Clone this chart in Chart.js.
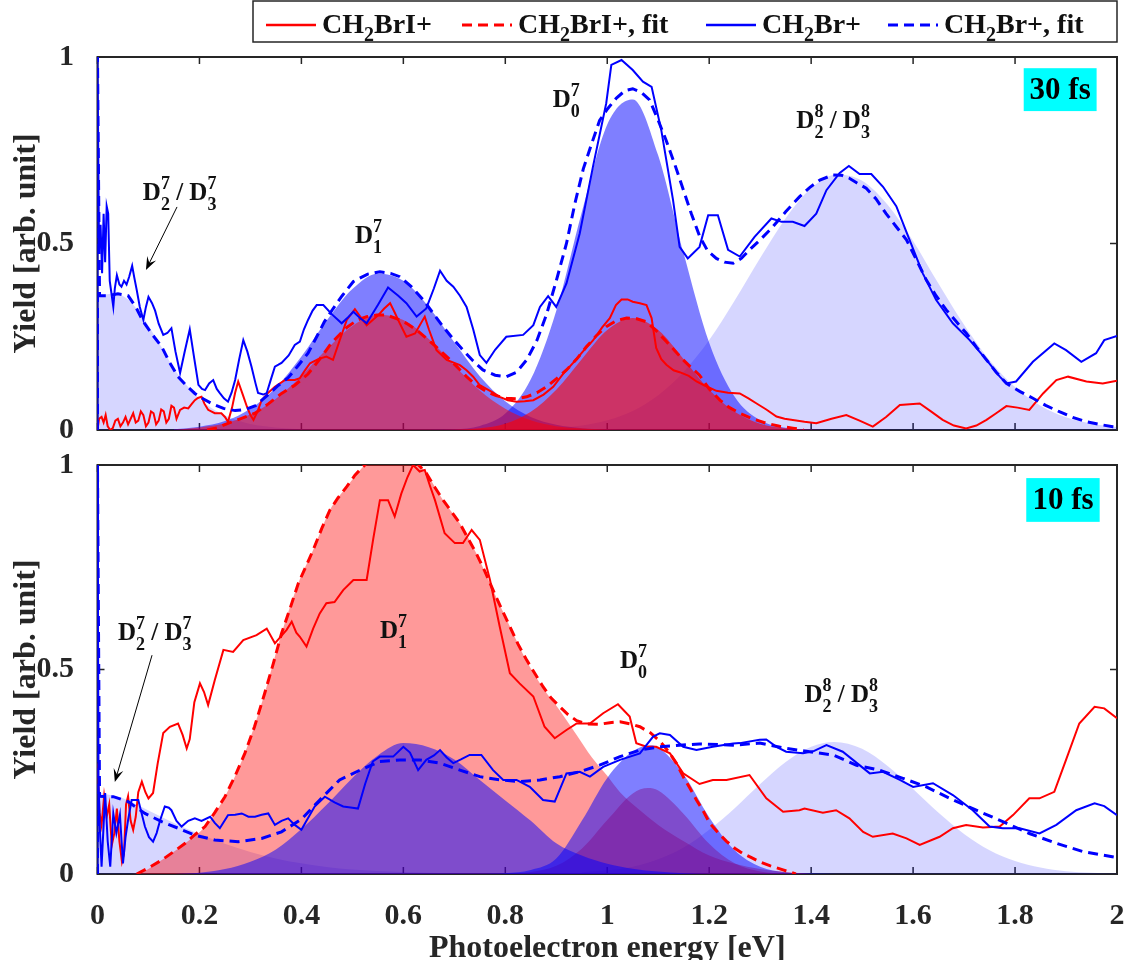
<!DOCTYPE html>
<html>
<head>
<meta charset="utf-8">
<script src="https://cdn.jsdelivr.net/npm/chart.js@4.4.1/dist/chart.umd.min.js"></script>
<style>
  html, body { margin: 0; padding: 0; background: #fff; }
  #wrap { position: relative; width: 1127px; height: 960px; }
  #c1 { position: absolute; left: 0; top: 0; }
  #c2 { position: absolute; left: 0; top: 445px; }
</style>
</head>
<body>
<div id="wrap">
  <canvas id="c1" width="1127" height="445"></canvas>
  <canvas id="c2" width="1127" height="515"></canvas>
</div>
<script>
const SERIF = "'Liberation Serif', 'Times New Roman', serif";

const xTicks = [0, 0.2, 0.4, 0.6, 0.8, 1, 1.2, 1.4, 1.6, 1.8, 2];
const yTicks = [0, 0.5, 1];

/* ---------- 30 fs panel: measured spectra [energy, yield] ---------- */
const e30_CH2BrI = [[0,0],[0.003,0.03],[0.008,0.035],[0.012,0.02],[0.016,0.04],[0.02,0.01],[0.025,0],[0.03,0.005],[0.035,0.025],[0.04,0.03],[0.045,0.01],[0.05,0.02],[0.055,0.035],[0.06,0.015],[0.065,0.03],[0.07,0.045],[0.075,0.02],[0.08,0.025],[0.085,0.05],[0.09,0.04],[0.095,0.01],[0.1,0.02],[0.105,0.05],[0.11,0.045],[0.115,0.015],[0.12,0.025],[0.125,0.055],[0.13,0.05],[0.135,0.02],[0.14,0.03],[0.145,0.065],[0.15,0.06],[0.155,0.03],[0.162,0.054],[0.17,0.06],[0.178,0.058],[0.185,0.07],[0.191,0.08],[0.197,0.086],[0.204,0.089],[0.21,0.07],[0.217,0.054],[0.23,0.045],[0.243,0.045],[0.25,0.035],[0.256,0.022],[0.264,0.06],[0.27,0.1],[0.276,0.13],[0.285,0.095],[0.293,0.063],[0.3,0.04],[0.306,0.027],[0.314,0.05],[0.322,0.08],[0.335,0.1],[0.348,0.116],[0.368,0.134],[0.387,0.134],[0.397,0.139],[0.407,0.16],[0.417,0.179],[0.433,0.19],[0.449,0.197],[0.462,0.188],[0.475,0.24],[0.489,0.295],[0.505,0.324],[0.515,0.305],[0.528,0.281],[0.54,0.295],[0.551,0.308],[0.562,0.325],[0.574,0.34],[0.583,0.315],[0.593,0.286],[0.606,0.25],[0.623,0.259],[0.642,0.304],[0.65,0.27],[0.665,0.214],[0.685,0.188],[0.711,0.174],[0.724,0.16],[0.737,0.143],[0.75,0.12],[0.763,0.11],[0.776,0.1],[0.789,0.089],[0.805,0.08],[0.822,0.076],[0.838,0.077],[0.855,0.08],[0.875,0.095],[0.894,0.116],[0.913,0.15],[0.933,0.18],[0.952,0.21],[0.972,0.24],[0.99,0.275],[1.005,0.3],[1.017,0.335],[1.028,0.35],[1.04,0.35],[1.05,0.344],[1.064,0.34],[1.077,0.335],[1.087,0.3],[1.096,0.22],[1.106,0.19],[1.116,0.175],[1.13,0.16],[1.142,0.155],[1.16,0.145],[1.175,0.13],[1.19,0.12],[1.214,0.105],[1.237,0.1],[1.26,0.098],[1.277,0.085],[1.293,0.071],[1.312,0.055],[1.332,0.036],[1.348,0.03],[1.364,0.027],[1.387,0.022],[1.41,0.018],[1.44,0.03],[1.469,0.04],[1.495,0.025],[1.521,0.009],[1.547,0.035],[1.574,0.067],[1.613,0.071],[1.635,0.05],[1.658,0.027],[1.68,0.012],[1.704,0.004],[1.724,0.012],[1.744,0.027],[1.763,0.045],[1.783,0.064],[1.805,0.06],[1.828,0.054],[1.855,0.098],[1.881,0.134],[1.904,0.143],[1.94,0.13],[1.972,0.125],[2,0.132]];

const e30_CH2BrI_fit = [[0.215,0],[0.235,0.006],[0.256,0.018],[0.28,0.03],[0.309,0.045],[0.335,0.07],[0.361,0.098],[0.387,0.12],[0.413,0.15],[0.436,0.19],[0.46,0.235],[0.489,0.275],[0.51,0.295],[0.528,0.304],[0.548,0.308],[0.567,0.308],[0.588,0.298],[0.606,0.286],[0.626,0.268],[0.645,0.246],[0.665,0.222],[0.685,0.197],[0.705,0.17],[0.724,0.143],[0.743,0.12],[0.763,0.103],[0.782,0.092],[0.802,0.085],[0.822,0.084],[0.842,0.089],[0.862,0.1],[0.881,0.116],[0.9,0.137],[0.92,0.161],[0.94,0.19],[0.959,0.223],[0.978,0.252],[0.998,0.277],[1.018,0.293],[1.038,0.3],[1.058,0.298],[1.077,0.29],[1.097,0.265],[1.116,0.237],[1.133,0.212],[1.149,0.188],[1.165,0.167],[1.181,0.147],[1.2,0.11],[1.221,0.08],[1.24,0.06],[1.26,0.045],[1.285,0.03],[1.312,0.018],[1.338,0.01],[1.364,0.005],[1.385,0]];

const e30_CH2Br = [[0,0],[0,1],[0.003,0.48],[0.006,0.55],[0.009,0.42],[0.012,0.58],[0.015,0.45],[0.018,0.6],[0.021,0.58],[0.024,0.4],[0.027,0.37],[0.031,0.33],[0.034,0.38],[0.038,0.415],[0.043,0.39],[0.047,0.384],[0.052,0.4],[0.057,0.39],[0.062,0.41],[0.068,0.44],[0.072,0.41],[0.077,0.375],[0.083,0.33],[0.09,0.295],[0.095,0.33],[0.1,0.357],[0.107,0.34],[0.113,0.32],[0.12,0.285],[0.129,0.255],[0.137,0.26],[0.145,0.273],[0.153,0.21],[0.162,0.153],[0.171,0.21],[0.181,0.27],[0.19,0.19],[0.198,0.121],[0.205,0.11],[0.211,0.107],[0.219,0.125],[0.227,0.134],[0.234,0.11],[0.24,0.099],[0.248,0.085],[0.256,0.076],[0.263,0.1],[0.27,0.134],[0.278,0.19],[0.286,0.241],[0.294,0.21],[0.302,0.17],[0.31,0.125],[0.315,0.099],[0.325,0.095],[0.332,0.099],[0.34,0.135],[0.348,0.17],[0.355,0.175],[0.361,0.18],[0.375,0.2],[0.387,0.228],[0.397,0.237],[0.405,0.27],[0.413,0.295],[0.422,0.32],[0.43,0.335],[0.443,0.335],[0.46,0.31],[0.479,0.286],[0.49,0.3],[0.502,0.317],[0.515,0.3],[0.528,0.286],[0.55,0.335],[0.57,0.382],[0.59,0.36],[0.606,0.34],[0.626,0.304],[0.645,0.326],[0.66,0.38],[0.672,0.427],[0.685,0.4],[0.698,0.384],[0.711,0.36],[0.724,0.33],[0.737,0.27],[0.75,0.201],[0.763,0.18],[0.78,0.215],[0.802,0.25],[0.835,0.255],[0.855,0.281],[0.868,0.33],[0.884,0.359],[0.9,0.33],[0.92,0.393],[0.946,0.527],[0.972,0.706],[0.998,0.876],[1.008,0.979],[1.028,0.992],[1.05,0.965],[1.07,0.934],[1.087,0.92],[1.106,0.804],[1.129,0.617],[1.142,0.491],[1.158,0.46],[1.181,0.491],[1.198,0.576],[1.217,0.576],[1.237,0.483],[1.26,0.465],[1.289,0.518],[1.322,0.567],[1.342,0.558],[1.364,0.558],[1.387,0.547],[1.41,0.58],[1.43,0.643],[1.456,0.689],[1.474,0.708],[1.495,0.686],[1.518,0.686],[1.541,0.652],[1.567,0.6],[1.593,0.51],[1.619,0.42],[1.645,0.349],[1.678,0.286],[1.711,0.241],[1.744,0.188],[1.77,0.143],[1.783,0.125],[1.802,0.13],[1.835,0.183],[1.877,0.232],[1.9,0.214],[1.93,0.183],[1.959,0.206],[1.975,0.241],[2,0.252]];

const e30_CH2Br_fit = [[0,0],[0,1],[0.004,0.36],[0.02,0.36],[0.04,0.365],[0.06,0.36],[0.075,0.33],[0.09,0.29],[0.108,0.255],[0.126,0.223],[0.142,0.18],[0.158,0.143],[0.175,0.118],[0.191,0.098],[0.208,0.083],[0.224,0.071],[0.247,0.058],[0.27,0.052],[0.29,0.055],[0.31,0.065],[0.335,0.095],[0.355,0.12],[0.374,0.14],[0.395,0.175],[0.413,0.206],[0.43,0.25],[0.445,0.29],[0.462,0.325],[0.48,0.36],[0.502,0.398],[0.53,0.418],[0.554,0.424],[0.575,0.42],[0.593,0.411],[0.615,0.385],[0.639,0.349],[0.66,0.31],[0.678,0.277],[0.697,0.245],[0.717,0.214],[0.737,0.185],[0.756,0.161],[0.78,0.147],[0.802,0.143],[0.822,0.155],[0.842,0.188],[0.862,0.24],[0.881,0.31],[0.9,0.4],[0.92,0.5],[0.937,0.61],[0.953,0.7],[0.97,0.77],[0.985,0.83],[1,0.86],[1.018,0.89],[1.035,0.91],[1.05,0.915],[1.067,0.905],[1.083,0.885],[1.1,0.83],[1.116,0.775],[1.133,0.71],[1.149,0.645],[1.165,0.58],[1.181,0.52],[1.197,0.48],[1.214,0.46],[1.23,0.45],[1.247,0.447],[1.263,0.46],[1.279,0.483],[1.3,0.51],[1.325,0.545],[1.35,0.585],[1.377,0.625],[1.397,0.65],[1.417,0.67],[1.443,0.684],[1.46,0.683],[1.475,0.675],[1.49,0.662],[1.508,0.648],[1.527,0.62],[1.547,0.58],[1.567,0.545],[1.587,0.51],[1.607,0.455],[1.626,0.402],[1.645,0.36],[1.665,0.322],[1.685,0.29],[1.704,0.26],[1.724,0.223],[1.744,0.188],[1.763,0.155],[1.783,0.125],[1.81,0.103],[1.835,0.085],[1.86,0.066],[1.887,0.049],[1.913,0.034],[1.94,0.022],[1.965,0.015],[1.992,0.009],[2,0.008]];

/* 30 fs fitted components */
const g30_D23_7 = [[0,0.36],[0.03,0.365],[0.06,0.35],[0.09,0.3],[0.12,0.235],[0.15,0.165],[0.18,0.112],[0.21,0.072],[0.24,0.046],[0.27,0.028],[0.3,0.016],[0.35,0.007],[0.4,0.002],[0.45,0]];
const g30_D1_Br = [[0.15,0.002],[0.2,0.009],[0.25,0.024],[0.3,0.057],[0.35,0.114],[0.4,0.197],[0.45,0.294],[0.5,0.378],[0.55,0.419],[0.6,0.4],[0.65,0.33],[0.7,0.235],[0.75,0.144],[0.8,0.077],[0.85,0.035],[0.9,0.014],[0.95,0.005],[1,0.002],[1.05,0]];
const g30_D1_BrI = [[0.15,0.001],[0.2,0.007],[0.25,0.018],[0.3,0.042],[0.35,0.084],[0.4,0.145],[0.45,0.217],[0.5,0.279],[0.55,0.309],[0.6,0.295],[0.65,0.244],[0.7,0.173],[0.75,0.106],[0.8,0.057],[0.85,0.026],[0.9,0.01],[0.95,0.004],[1,0.001],[1.05,0]];
const g30_D0_Br = [[0.65,0],[0.7,0.002],[0.75,0.011],[0.8,0.044],[0.85,0.136],[0.9,0.32],[0.95,0.584],[1,0.819],[1.05,0.886],[1.1,0.736],[1.15,0.473],[1.2,0.234],[1.25,0.089],[1.3,0.026],[1.35,0.006],[1.4,0.001],[1.45,0]];
const g30_D0_BrI = [[0.65,0],[0.7,0.001],[0.75,0.005],[0.8,0.017],[0.85,0.049],[0.9,0.108],[0.95,0.19],[1,0.268],[1.05,0.3],[1.1,0.268],[1.15,0.19],[1.2,0.108],[1.25,0.049],[1.3,0.017],[1.35,0.005],[1.4,0.001],[1.45,0]];
const g30_D23_8 = [[0.85,0.002],[0.9,0.005],[0.95,0.012],[1,0.026],[1.05,0.051],[1.1,0.093],[1.15,0.156],[1.2,0.241],[1.25,0.347],[1.3,0.461],[1.35,0.568],[1.4,0.648],[1.45,0.685],[1.5,0.668],[1.55,0.604],[1.6,0.507],[1.65,0.392],[1.7,0.282],[1.75,0.187],[1.8,0.115],[1.85,0.065],[1.9,0.034],[1.95,0.017],[2,0.008]];

/* ---------- 10 fs panel ---------- */
const e10_CH2BrI = [[0,0.27],[0.004,0.15],[0.008,0.12],[0.013,0.19],[0.018,0.14],[0.023,0.17],[0.028,0.07],[0.033,0.1],[0.038,0.16],[0.043,0.08],[0.048,0.03],[0.052,0.05],[0.056,0.17],[0.06,0.19],[0.065,0.13],[0.07,0.108],[0.075,0.14],[0.08,0.2],[0.087,0.226],[0.094,0.2],[0.1,0.185],[0.109,0.198],[0.118,0.27],[0.129,0.345],[0.142,0.36],[0.158,0.368],[0.167,0.34],[0.175,0.307],[0.181,0.33],[0.19,0.42],[0.201,0.466],[0.209,0.445],[0.217,0.413],[0.23,0.474],[0.247,0.548],[0.266,0.543],[0.286,0.572],[0.312,0.584],[0.332,0.6],[0.348,0.564],[0.371,0.597],[0.381,0.617],[0.39,0.59],[0.397,0.58],[0.41,0.556],[0.423,0.6],[0.436,0.637],[0.449,0.662],[0.465,0.665],[0.482,0.694],[0.502,0.719],[0.528,0.719],[0.541,0.82],[0.554,0.914],[0.57,0.914],[0.583,0.874],[0.596,0.93],[0.608,0.97],[0.619,1],[0.632,0.984],[0.642,0.988],[0.652,0.95],[0.662,0.914],[0.681,0.833],[0.701,0.809],[0.717,0.809],[0.734,0.841],[0.75,0.817],[0.77,0.719],[0.789,0.605],[0.809,0.491],[0.828,0.466],[0.855,0.434],[0.877,0.36],[0.897,0.332],[0.92,0.352],[0.94,0.368],[0.966,0.368],[0.992,0.393],[1.021,0.415],[1.044,0.385],[1.057,0.32],[1.077,0.311],[1.096,0.311],[1.123,0.295],[1.149,0.246],[1.181,0.22],[1.207,0.23],[1.234,0.23],[1.279,0.242],[1.312,0.185],[1.345,0.152],[1.377,0.156],[1.387,0.16],[1.423,0.15],[1.449,0.156],[1.475,0.136],[1.502,0.103],[1.521,0.091],[1.56,0.099],[1.587,0.087],[1.613,0.071],[1.652,0.091],[1.678,0.112],[1.704,0.12],[1.737,0.114],[1.77,0.116],[1.796,0.144],[1.828,0.185],[1.848,0.185],[1.877,0.201],[1.9,0.279],[1.926,0.368],[1.956,0.409],[1.975,0.405],[2,0.381]];

const e10_CH2BrI_fit = [[0.077,0],[0.1,0.015],[0.126,0.034],[0.15,0.055],[0.172,0.075],[0.19,0.095],[0.211,0.116],[0.23,0.15],[0.25,0.189],[0.27,0.24],[0.289,0.295],[0.308,0.36],[0.328,0.442],[0.345,0.515],[0.361,0.588],[0.378,0.65],[0.394,0.711],[0.41,0.755],[0.423,0.792],[0.44,0.845],[0.456,0.89],[0.472,0.92],[0.489,0.947],[0.505,0.975],[0.521,0.996],[0.55,1.03],[0.58,1.045],[0.61,1.03],[0.63,1],[0.645,0.98],[0.662,0.945],[0.678,0.914],[0.695,0.885],[0.711,0.857],[0.727,0.82],[0.743,0.784],[0.76,0.74],[0.776,0.694],[0.792,0.65],[0.809,0.605],[0.825,0.562],[0.842,0.523],[0.858,0.49],[0.874,0.458],[0.89,0.43],[0.907,0.409],[0.923,0.39],[0.94,0.375],[0.96,0.367],[0.985,0.366],[1.005,0.37],[1.025,0.372],[1.045,0.367],[1.064,0.36],[1.085,0.345],[1.103,0.325],[1.12,0.3],[1.136,0.27],[1.149,0.238],[1.162,0.21],[1.175,0.181],[1.188,0.155],[1.201,0.124],[1.218,0.1],[1.234,0.08],[1.25,0.063],[1.266,0.05],[1.283,0.04],[1.299,0.03],[1.32,0.02],[1.345,0.01],[1.37,0]];

const e10_CH2Br = [[0,0],[0,1],[0.002,0.23],[0.005,0.1],[0.008,0.018],[0.012,0.12],[0.015,0.198],[0.02,0.08],[0.025,0.018],[0.031,0.148],[0.037,0.1],[0.044,0.145],[0.05,0.026],[0.055,0.09],[0.06,0.132],[0.067,0.181],[0.08,0.181],[0.093,0.116],[0.101,0.09],[0.109,0.079],[0.116,0.1],[0.123,0.132],[0.132,0.165],[0.14,0.162],[0.145,0.156],[0.155,0.13],[0.165,0.116],[0.178,0.13],[0.191,0.136],[0.204,0.13],[0.221,0.14],[0.23,0.125],[0.24,0.112],[0.256,0.144],[0.27,0.145],[0.283,0.148],[0.296,0.14],[0.309,0.14],[0.322,0.145],[0.335,0.148],[0.348,0.12],[0.361,0.13],[0.374,0.136],[0.387,0.12],[0.4,0.108],[0.41,0.13],[0.426,0.165],[0.446,0.189],[0.465,0.175],[0.482,0.165],[0.5,0.162],[0.511,0.16],[0.525,0.22],[0.54,0.275],[0.554,0.287],[0.58,0.287],[0.6,0.311],[0.613,0.297],[0.629,0.254],[0.645,0.279],[0.66,0.29],[0.672,0.303],[0.685,0.285],[0.698,0.271],[0.713,0.28],[0.73,0.291],[0.753,0.291],[0.776,0.254],[0.796,0.23],[0.822,0.23],[0.848,0.213],[0.874,0.181],[0.897,0.177],[0.92,0.246],[0.946,0.25],[0.966,0.238],[0.992,0.262],[1.025,0.279],[1.064,0.295],[1.09,0.336],[1.103,0.344],[1.123,0.34],[1.149,0.311],[1.175,0.303],[1.207,0.311],[1.247,0.319],[1.26,0.32],[1.299,0.328],[1.312,0.329],[1.332,0.311],[1.351,0.299],[1.384,0.295],[1.404,0.3],[1.43,0.315],[1.462,0.299],[1.482,0.279],[1.515,0.246],[1.541,0.25],[1.574,0.23],[1.6,0.213],[1.639,0.222],[1.678,0.193],[1.717,0.156],[1.75,0.116],[1.776,0.112],[1.809,0.112],[1.848,0.099],[1.881,0.12],[1.92,0.156],[1.956,0.173],[1.975,0.166],[2,0.144]];

const e10_CH2Br_fit = [[0,0],[0,1],[0.004,0.19],[0.031,0.189],[0.06,0.177],[0.093,0.148],[0.126,0.128],[0.158,0.112],[0.191,0.095],[0.23,0.083],[0.276,0.079],[0.322,0.087],[0.361,0.103],[0.4,0.134],[0.436,0.181],[0.475,0.23],[0.515,0.254],[0.554,0.275],[0.593,0.279],[0.632,0.279],[0.672,0.271],[0.711,0.254],[0.75,0.238],[0.789,0.23],[0.828,0.226],[0.868,0.23],[0.907,0.238],[0.946,0.25],[0.985,0.266],[1.025,0.287],[1.064,0.303],[1.103,0.311],[1.142,0.315],[1.181,0.318],[1.247,0.315],[1.299,0.32],[1.351,0.307],[1.397,0.299],[1.443,0.291],[1.489,0.266],[1.534,0.254],[1.58,0.234],[1.626,0.213],[1.672,0.185],[1.724,0.156],[1.776,0.128],[1.828,0.099],[1.881,0.075],[1.933,0.055],[2,0.04]];

/* 10 fs fitted components */
const g10_D23_7 = [[0,0.2],[0.05,0.185],[0.1,0.155],[0.15,0.125],[0.2,0.098],[0.25,0.074],[0.3,0.054],[0.35,0.038],[0.4,0.026],[0.45,0.017],[0.5,0.011],[0.6,0.005],[0.7,0.002],[0.8,0]];
const g10_D1_BrI = [[0.05,0],[0.08,0.002],[0.126,0.034],[0.172,0.075],[0.211,0.116],[0.25,0.189],[0.289,0.295],[0.328,0.442],[0.361,0.588],[0.394,0.711],[0.423,0.792],[0.456,0.89],[0.489,0.947],[0.521,0.996],[0.55,1.03],[0.58,1.045],[0.61,1.03],[0.645,0.98],[0.678,0.914],[0.711,0.857],[0.743,0.784],[0.776,0.694],[0.809,0.605],[0.842,0.52],[0.874,0.455],[0.907,0.4],[0.94,0.34],[0.97,0.285],[1,0.24],[1.025,0.2],[1.06,0.16],[1.1,0.12],[1.15,0.08],[1.2,0.045],[1.25,0.025],[1.3,0.012],[1.35,0.005],[1.4,0]];
const g10_D0_BrI = [[0.8,0],[0.85,0.005],[0.9,0.02],[0.95,0.062],[1,0.132],[1.05,0.197],[1.08,0.21],[1.1,0.204],[1.15,0.147],[1.2,0.074],[1.25,0.026],[1.3,0.006],[1.35,0.001],[1.4,0]];
const g10_D1_Br = [[0.15,0],[0.2,0.003],[0.25,0.012],[0.3,0.03],[0.35,0.06],[0.4,0.11],[0.45,0.17],[0.5,0.235],[0.55,0.29],[0.6,0.32],[0.65,0.31],[0.7,0.28],[0.75,0.23],[0.8,0.18],[0.85,0.13],[0.9,0.075],[0.95,0.045],[1,0.025],[1.05,0.013],[1.1,0.006],[1.15,0.002],[1.2,0]];
const g10_D0_Br = [[0.75,0],[0.8,0.002],[0.85,0.01],[0.9,0.038],[0.95,0.13],[1,0.235],[1.05,0.3],[1.085,0.315],[1.1,0.31],[1.15,0.243],[1.2,0.139],[1.25,0.058],[1.3,0.018],[1.35,0.004],[1.4,0.001],[1.45,0]];
const g10_D23_8 = [[0.95,0.004],[1,0.009],[1.05,0.018],[1.1,0.036],[1.15,0.065],[1.2,0.108],[1.25,0.161],[1.3,0.22],[1.35,0.274],[1.4,0.311],[1.445,0.323],[1.5,0.306],[1.55,0.264],[1.6,0.208],[1.65,0.15],[1.7,0.098],[1.75,0.058],[1.8,0.032],[1.85,0.016],[1.9,0.007],[1.95,0.003],[2,0.001]];

const RED = '#ff0000', BLUE = '#0000ff';
const LAV = 'rgba(0,0,255,0.16)', MIDBLUE = 'rgba(0,0,255,0.5)';

function pts(a) { return a.map(p => ({ x: p[0], y: p[1] })); }

function line(data, color, dashed, order) {
  return {
    data: pts(data), borderColor: color, borderWidth: dashed ? 3 : 2,
    borderDash: dashed ? [10, 6] : [], pointRadius: 0, fill: false, tension: 0, order
  };
}

function area(data, color, order) {
  return {
    data: pts(data), borderWidth: 0, borderColor: 'rgba(0,0,0,0)', backgroundColor: color,
    fill: 'origin', pointRadius: 0, cubicInterpolationMode: 'monotone', order
  };
}

// rich text: plain strings, or {sup, sub} stacked scripts
function rich(ctx, x, y, parts, size, subOff) {
  const small = Math.round(size * 0.72);
  ctx.textAlign = 'left';
  ctx.textBaseline = 'alphabetic';
  for (const p of parts) {
    if (typeof p === 'string') {
      ctx.font = `bold ${size}px ${SERIF}`;
      ctx.fillText(p, x, y);
      x += ctx.measureText(p).width;
    } else {
      ctx.font = `bold ${small}px ${SERIF}`;
      let w = 0;
      if (p.sup) { ctx.fillText(p.sup, x, y - size * 0.45); w = Math.max(w, ctx.measureText(p.sup).width); }
      if (p.sub) { ctx.fillText(p.sub, x, y + size * (subOff || 0.4)); w = Math.max(w, ctx.measureText(p.sub).width); }
      x += w;
    }
  }
  return x;
}

function arrow(ctx, x1, y1, x2, y2) {
  const ang = Math.atan2(y2 - y1, x2 - x1);
  const hl = 13, hw = 5;
  ctx.strokeStyle = '#000';
  ctx.lineWidth = 1;
  ctx.beginPath();
  ctx.moveTo(x1, y1);
  ctx.lineTo(x2 - hl * 0.6 * Math.cos(ang), y2 - hl * 0.6 * Math.sin(ang));
  ctx.stroke();
  ctx.fillStyle = '#000';
  ctx.beginPath();
  ctx.moveTo(x2, y2);
  ctx.lineTo(x2 - hl * Math.cos(ang) + hw * Math.sin(ang), y2 - hl * Math.sin(ang) - hw * Math.cos(ang));
  ctx.lineTo(x2 - hl * 0.6 * Math.cos(ang), y2 - hl * 0.6 * Math.sin(ang));
  ctx.lineTo(x2 - hl * Math.cos(ang) - hw * Math.sin(ang), y2 - hl * Math.sin(ang) + hw * Math.cos(ang));
  ctx.closePath();
  ctx.fill();
}

function makeDecor(cfg) {
  return {
    id: 'decor',
    beforeDatasetsDraw(chart) {
      const { ctx, chartArea: a, scales: { x, y } } = chart;
      ctx.save();
      ctx.strokeStyle = '#262626';
      ctx.lineWidth = 2;
      ctx.strokeRect(a.left, a.top, a.right - a.left, a.bottom - a.top);
      ctx.lineWidth = 1.5;
      ctx.beginPath();
      xTicks.forEach(v => {
        const px = x.getPixelForValue(v);
        ctx.moveTo(px, a.bottom); ctx.lineTo(px, a.bottom - 7);
        ctx.moveTo(px, a.top); ctx.lineTo(px, a.top + 7);
      });
      yTicks.forEach(v => {
        const py = y.getPixelForValue(v);
        ctx.moveTo(a.left, py); ctx.lineTo(a.left + 7, py);
        ctx.moveTo(a.right, py); ctx.lineTo(a.right - 7, py);
      });
      ctx.stroke();
      ctx.restore();
    },
    afterDraw(chart) {
      const { ctx, chartArea: a, scales: { x, y } } = chart;
      ctx.save();
      ctx.fillStyle = '#111';

      // peak labels
      cfg.labels.forEach(l => rich(ctx, x.getPixelForValue(l.at[0]), y.getPixelForValue(l.at[1]), l.parts, 25));

      // arrow to the low-energy band
      const ar = cfg.arrow;
      arrow(ctx, x.getPixelForValue(ar[0]), y.getPixelForValue(ar[1]), x.getPixelForValue(ar[2]), y.getPixelForValue(ar[3]));

      // delay badge
      const b = cfg.badge;
      const bx0 = x.getPixelForValue(b.box[0]), by0 = y.getPixelForValue(b.box[1]);
      const bx1 = x.getPixelForValue(b.box[2]), by1 = y.getPixelForValue(b.box[3]);
      ctx.fillStyle = '#00ffff';
      ctx.fillRect(bx0, by0, bx1 - bx0, by1 - by0);
      ctx.fillStyle = '#000';
      ctx.font = `bold 31px ${SERIF}`;
      ctx.textAlign = 'center';
      ctx.textBaseline = 'middle';
      ctx.fillText(b.text, (bx0 + bx1) / 2, (by0 + by1) / 2 + 1);

      // y title
      ctx.save();
      ctx.translate(27, (a.top + a.bottom) / 2);
      ctx.rotate(-Math.PI / 2);
      ctx.fillStyle = '#262626';
      ctx.font = `bold 32px ${SERIF}`;
      ctx.textAlign = 'center';
      ctx.textBaseline = 'middle';
      ctx.fillText('Yield [arb. unit]', 0, 0);
      ctx.restore();

      if (cfg.xTitle) {
        ctx.fillStyle = '#262626';
        ctx.font = `bold 32px ${SERIF}`;
        ctx.textAlign = 'center';
        ctx.textBaseline = 'alphabetic';
        ctx.fillText('Photoelectron energy [eV]', (a.left + a.right) / 2, 512);
      }

      if (cfg.legend) {
        ctx.strokeStyle = '#262626';
        ctx.lineWidth = 1.5;
        ctx.fillStyle = '#fff';
        ctx.fillRect(253, 1, 864, 41);
        ctx.strokeRect(253, 1, 864, 41);
        const items = [
          { x: 266, c: RED, d: false, t: ['CH', { sub: '2' }, 'BrI+'] },
          { x: 462, c: RED, d: true, t: ['CH', { sub: '2' }, 'BrI+, fit'] },
          { x: 706, c: BLUE, d: false, t: ['CH', { sub: '2' }, 'Br+'] },
          { x: 888, c: BLUE, d: true, t: ['CH', { sub: '2' }, 'Br+, fit'] }
        ];
        items.forEach(it => {
          ctx.strokeStyle = it.c;
          ctx.lineWidth = it.d ? 3 : 2.5;
          ctx.setLineDash(it.d ? [10, 6] : []);
          ctx.beginPath();
          ctx.moveTo(it.x, 25); ctx.lineTo(it.x + 50, 25);
          ctx.stroke();
          ctx.setLineDash([]);
          ctx.fillStyle = '#111';
          rich(ctx, it.x + 56, 33, it.t, 28, 0.28);
        });
      }
      ctx.restore();
    }
  };
}

function axes(showX) {
  const font = { family: SERIF, size: 30, weight: 'bold' };
  return {
    x: {
      type: 'linear', min: 0, max: 2,
      grid: { display: false }, border: { display: false },
      afterBuildTicks: s => { s.ticks = xTicks.map(v => ({ value: v })); },
      ticks: { display: showX, autoSkip: false, maxRotation: 0, padding: 16, color: '#262626', font,
               callback: v => String(v) },
      afterFit: s => { s.height = showX ? 86 : 15; s.paddingLeft = 0; s.paddingRight = 0; }
    },
    y: {
      type: 'linear', min: 0, max: 1,
      grid: { display: false }, border: { display: false },
      afterBuildTicks: s => { s.ticks = yTicks.map(v => ({ value: v })); },
      ticks: { padding: 15.5, color: '#262626', font, callback: v => String(v) },
      afterFit: s => { s.width = 97.5; s.paddingTop = 0; s.paddingBottom = 0; }
    }
  };
}

function baseOptions(showX, padTop) {
  return {
    responsive: false,
    animation: false,
    events: [],
    layout: { padding: { top: padTop, right: 10, left: 0, bottom: 0 } },
    plugins: { legend: { display: false }, tooltip: { enabled: false } },
    scales: axes(showX)
  };
}

// 30 fs: Br+ components under, BrI+ components over (lower order = drawn on top)
new Chart(document.getElementById('c1'), {
  type: 'line',
  data: {
    datasets: [
      line(e30_CH2Br_fit, BLUE, true, 1),
      line(e30_CH2Br, BLUE, false, 2),
      line(e30_CH2BrI_fit, RED, true, 3),
      line(e30_CH2BrI, RED, false, 4),
      area(g30_D0_BrI, 'rgba(255,0,0,0.6)', 5),
      area(g30_D1_BrI, 'rgba(255,0,0,0.5)', 6),
      area(g30_D0_Br, MIDBLUE, 7),
      area(g30_D1_Br, MIDBLUE, 8),
      area(g30_D23_8, LAV, 9),
      area(g30_D23_7, LAV, 10)
    ]
  },
  options: baseOptions(false, 57),
  plugins: [makeDecor({
    legend: true,
    xTitle: false,
    labels: [
      { at: [0.089, 0.617], parts: ['D', { sup: '7', sub: '2' }, ' / D', { sup: '7', sub: '3' }] },
      { at: [0.505, 0.501], parts: ['D', { sup: '7', sub: '1' }] },
      { at: [0.893, 0.866], parts: ['D', { sup: '7', sub: '0' }] },
      { at: [1.371, 0.81], parts: ['D', { sup: '8', sub: '2' }, ' / D', { sup: '8', sub: '3' }] }
    ],
    arrow: [0.156, 0.598, 0.095, 0.429],
    badge: { text: '30 fs', box: [1.817, 0.97, 1.96, 0.855] }
  })]
});

// 10 fs: BrI+ components under, Br+ components over
new Chart(document.getElementById('c2'), {
  type: 'line',
  data: {
    datasets: [
      line(e10_CH2Br_fit, BLUE, true, 1),
      line(e10_CH2Br, BLUE, false, 2),
      line(e10_CH2BrI_fit, RED, true, 3),
      line(e10_CH2BrI, RED, false, 4),
      area(g10_D0_Br, MIDBLUE, 5),
      area(g10_D1_Br, MIDBLUE, 6),
      area(g10_D0_BrI, 'rgba(255,0,0,0.4)', 7),
      area(g10_D1_BrI, 'rgba(255,0,0,0.4)', 8),
      area(g10_D23_8, LAV, 9),
      area(g10_D23_7, LAV, 10)
    ]
  },
  options: baseOptions(true, 20),
  plugins: [makeDecor({
    legend: false,
    xTitle: true,
    labels: [
      { at: [0.04, 0.572], parts: ['D', { sup: '7', sub: '2' }, ' / D', { sup: '7', sub: '3' }] },
      { at: [0.554, 0.577], parts: ['D', { sup: '7', sub: '1' }] },
      { at: [1.025, 0.504], parts: ['D', { sup: '7', sub: '0' }] },
      { at: [1.387, 0.421], parts: ['D', { sup: '8', sub: '2' }, ' / D', { sup: '8', sub: '3' }] }
    ],
    arrow: [0.107, 0.535, 0.034, 0.225],
    badge: { text: '10 fs', box: [1.822, 0.968, 1.966, 0.861] }
  })]
});
</script>
</body>
</html>
